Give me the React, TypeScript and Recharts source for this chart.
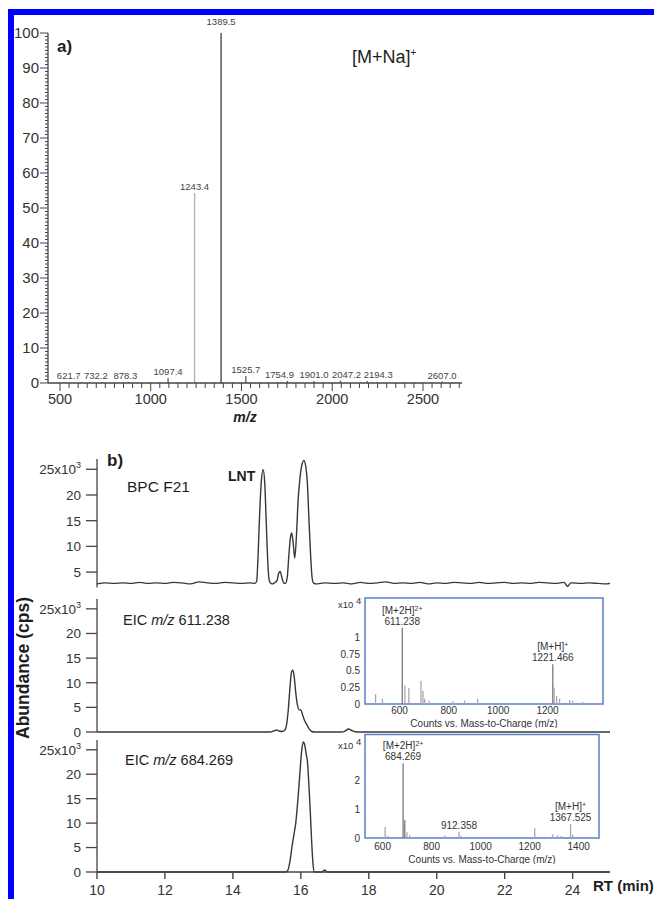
import React from "react";
import { BarChart, Bar, LineChart, Line, XAxis, YAxis, Cell, LabelList, ReferenceArea } from "recharts";

const FONT = "Arial, 'Liberation Sans', Helvetica, sans-serif";
const INK = "#1e1e1e";
const AXIS = "#444";
const TRACE = "#383838";
const BOX = "#5b7fc4";

// a) MS spectrum, relative abundance (%)
const msMz = [621.7, 732.2, 878.3, 1097.4, 1243.4, 1389.5, 1525.7, 1754.9, 1901.0, 2047.2, 2194.3, 2607.0];
const msRel = [0.3, 0.3, 0.3, 1.4, 54.3, 100, 2.0, 0.6, 0.6, 0.7, 0.6, 0.4];
const msXMajor = [500, 1000, 1500, 2000, 2500];
const msYMajor = [0, 10, 20, 30, 40, 50, 60, 70, 80, 90, 100];

// b) chromatograms, abundance in 10^3 cps
const bpcRt = [
  10.0, 10.25, 10.5, 10.75, 11.0, 11.25, 11.5, 11.75, 12.0, 12.25, 12.5, 12.75, 13.0, 13.25, 13.5, 13.75, 14.0, 14.25, 14.5, 14.65,
  14.7, 14.74, 14.78, 14.83, 14.89, 14.94, 14.98, 15.02, 15.06, 15.1, 15.16, 15.22, 15.3, 15.35, 15.39, 15.44, 15.49, 15.55,
  15.6, 15.65, 15.7, 15.73, 15.77, 15.82, 15.87, 15.92, 15.97, 16.02, 16.09, 16.15, 16.19, 16.24, 16.29, 16.33, 16.37, 16.45,
  16.7, 17.0, 17.25, 17.5, 17.75, 18.0, 18.25, 18.5, 18.75, 19.0, 19.25, 19.5, 19.75, 20.0, 20.25, 20.5, 20.75, 21.0, 21.25,
  21.5, 21.75, 22.0, 22.25, 22.5, 22.75, 23.0, 23.25, 23.5, 23.75, 23.85, 23.95, 24.25, 24.5, 24.75, 25.0, 25.1,
];
const bpcAbund = [
  2.7, 2.9, 2.8, 2.9, 2.8, 3.0, 2.8, 2.9, 2.8, 3.0, 2.9, 2.7, 3.1, 2.9, 2.8, 3.0, 2.9, 2.8, 2.9, 2.8,
  3.2, 8, 15, 22, 24.9, 22, 15, 8, 3.8, 2.9, 2.7, 2.9, 3.4, 4.8, 5.1, 4.0, 2.9, 2.8,
  4.0, 8.5, 12.0, 12.6, 11.0, 7.7, 12, 19, 23, 25.5, 26.7, 25.3, 22.6, 15, 8, 4, 2.9, 2.7,
  2.9, 2.8, 2.9, 2.7, 3.0, 2.8, 2.9, 3.1, 2.8, 2.9, 2.8, 3.0, 2.7, 2.9, 2.8, 3.0, 2.9, 2.8, 3.0,
  2.8, 2.9, 3.0, 2.8, 2.9, 2.8, 3.0, 2.9, 2.8, 3.0, 2.2, 2.9, 2.8, 2.9, 2.8, 2.7, 2.8,
];

const eic611Rt = [10.0, 15.1, 15.2, 15.28, 15.36, 15.45, 15.52, 15.58, 15.63, 15.68, 15.72, 15.76, 15.8, 15.85, 15.9, 15.95, 16.0, 16.05, 16.1, 16.15, 16.2, 16.25, 16.32, 16.4, 17.2, 17.3, 17.4, 17.5, 17.6, 17.7, 25.1];
const eic611Abund = [0, 0, 0.2, 0.4, 0.2, 0.1, 0.3, 1.5, 4.5, 9, 12, 12.6, 11.5, 8, 5.5, 4.5, 4.5, 3.5, 2.5, 1.8, 1.2, 0.6, 0.1, 0, 0, 0.2, 0.6, 0.3, 0.05, 0, 0];

const eic684Rt = [10.0, 15.55, 15.62, 15.68, 15.74, 15.8, 15.85, 15.92, 15.97, 16.02, 16.07, 16.12, 16.16, 16.19, 16.24, 16.28, 16.32, 16.36, 16.4, 16.62, 16.7, 16.78, 25.1];
const eic684Abund = [0, 0, 0.4, 2.2, 5.2, 7.8, 10, 15.4, 20, 24.5, 26.6, 25.8, 24, 22.9, 17.5, 12, 6, 1.5, 0, 0, 0.4, 0, 0];

const rtTicks = [10, 12, 14, 16, 18, 20, 22, 24];
const abTicks = [0, 5, 10, 15, 20, 25];

// insets: MS spectra, counts x10^4
const ins1Mz = [503, 531, 611.238, 622, 638, 687, 695, 702, 720, 816, 864, 917, 1221.466, 1227, 1237, 1249, 1290, 1302, 1343];
const ins1Int = [0.15, 0.08, 1.15, 0.28, 0.24, 0.35, 0.2, 0.08, 0.05, 0.04, 0.05, 0.08, 0.6, 0.25, 0.12, 0.08, 0.06, 0.05, 0.03];
const ins1NoteMz = [611.238, 1221.466];
const ins1NoteIon = ["[M+2H]^2+", "[M+H]^+"];
const ins1XTicks = [600, 800, 1000, 1200];
const ins1YTicks = [0, 0.25, 0.5, 0.75, 1];

const ins2Mz = [611, 623, 684.269, 691, 700, 711, 853, 860, 912.358, 921, 1221.5, 1294, 1315, 1329, 1367.525, 1376];
const ins2Int = [0.38, 0.08, 2.6, 0.62, 0.2, 0.1, 0.08, 0.06, 0.22, 0.08, 0.34, 0.13, 0.1, 0.07, 0.48, 0.12];
const ins2NoteMz = [684.269, 912.358, 1367.525];
const ins2NoteIon = ["[M+2H]^2+", "", "[M+H]^+"];
const ins2XTicks = [600, 800, 1000, 1200, 1400];
const ins2YTicks = [0, 1, 2];

// label nudges [dx, dy] so crowded peak labels don't collide
const MS_LABEL_NUDGE: Record<string, [number, number]> = {
  "621.7": [-13, 0],
  "732.2": [-6, 0],
  "878.3": [-3, 0],
  "1389.5": [0, -5],
  "1754.9": [-8, 0],
  "2047.2": [6, 0],
  "2194.3": [11, 0],
};

const msData = msMz.map((mz, i) => ({ mz, rel: msRel[i] }));
const msXTicks: number[] = [];
for (let t = 500; t <= 2700; t += 50) msXTicks.push(t);
const msYTicks: number[] = [];
for (let t = 0; t <= 100; t += 1) msYTicks.push(t);

const toRows = (rt: number[], ab: number[]) => rt.map((r, i) => ({ rt: r, v: ab[i] }));
const noteRows = (mzs: number[], ints: number[], noteMz: number[], noteIon: string[]) =>
  mzs.map((mz, i) => {
    const k = noteMz.indexOf(mz);
    return { mz, v: ints[i], note: k >= 0 ? `${noteIon[k]}|${mz.toFixed(3)}` : "" };
  });

const shade = (rel: number) => (rel > 80 ? "#4a4a4a" : rel > 10 ? "#b4b4b4" : "#6a6a6a");

const MsYTick = (p: any) => {
  const v = p.payload.value;
  const major = msYMajor.includes(v);
  return (
    <g>
      <line x1={p.x - (major ? 8 : 3)} x2={p.x} y1={p.y} y2={p.y} stroke={AXIS} strokeWidth={1} />
      {major && (
        <text x={p.x - 9} y={p.y} dy="0.36em" textAnchor="end" fontSize={15} fill="#333" fontFamily={FONT}>
          {v}
        </text>
      )}
    </g>
  );
};

const MsXTick = (p: any) => {
  const v = p.payload.value;
  const major = msXMajor.includes(v);
  return (
    <g>
      <line x1={p.x} x2={p.x} y1={p.y} y2={p.y + (major ? 8 : 5)} stroke={AXIS} strokeWidth={1} />
      {major && (
        <text x={p.x} y={p.y + 21} textAnchor="middle" fontSize={14.5} fill="#333" fontFamily={FONT}>
          {v}
        </text>
      )}
    </g>
  );
};

const msLabel = (p: any) => {
  const vb = p.viewBox ?? p;
  const nudge = MS_LABEL_NUDGE[String(p.value)] ?? [0, 0];
  return (
    <text
      x={vb.x + vb.width / 2 + nudge[0]}
      y={vb.y - 3 + nudge[1]}
      textAnchor="middle"
      fontSize={9.5}
      fill="#444"
      fontFamily={FONT}
    >
      {Number(p.value).toFixed(1)}
    </text>
  );
};

const insetLabel = (p: any) => {
  if (!p.value) return null;
  const vb = p.viewBox ?? p;
  const [ion, tag] = String(p.value).split("|");
  const [ionBase, charge] = ion.split("^");
  const cx = vb.x + vb.width / 2;
  const y = vb.y - 3;
  return (
    <g fontFamily={FONT} fill="#333" fontSize={10}>
      {ionBase && (
        <text x={cx} y={y - 11} textAnchor="middle">
          {ionBase}
          <tspan dy={-3} fontSize={7}>
            {charge}
          </tspan>
        </text>
      )}
      <text x={cx} y={y} textAnchor="middle">
        {tag}
      </text>
    </g>
  );
};

const AbTick = (p: any) => {
  const v = p.payload.value;
  return (
    <text x={p.x} y={p.y} dy="0.36em" textAnchor="end" fontSize={13.5} fill="#333" fontFamily={FONT}>
      {v === 25 ? (
        <>
          25x10
          <tspan dy={-6} fontSize={9}>
            3
          </tspan>
        </>
      ) : (
        v
      )}
    </text>
  );
};

function Chromatogram({
  top, height, margin, domain, ticks, data, showX,
}: {
  top: number; height: number; margin: any; domain: [number, number]; ticks: number[]; data: any[]; showX?: boolean;
}) {
  return (
    <div style={{ position: "absolute", left: 0, top }}>
      <LineChart width={654} height={height} data={data} margin={margin}>
        <XAxis
          type="number"
          dataKey="rt"
          domain={[10, 25.1]}
          ticks={rtTicks}
          interval={0}
          hide={!showX}
          height={27}
          tickSize={7}
          tickMargin={6}
          tickLine={{ stroke: AXIS, strokeWidth: 1.4 }}
          axisLine={{ stroke: AXIS, strokeWidth: 1.3 }}
          tick={{ fontSize: 14, fill: "#333", fontFamily: FONT }}
        />
        <YAxis
          type="number"
          domain={domain}
          ticks={ticks}
          interval={0}
          width={97}
          tickSize={11}
          tickMargin={5}
          tickLine={{ stroke: AXIS, strokeWidth: 1.3 }}
          axisLine={{ stroke: AXIS, strokeWidth: 1.3 }}
          tick={AbTick}
        />
        <Line type="monotone" dataKey="v" stroke={TRACE} strokeWidth={1.4} dot={false} isAnimationActive={false} />
      </LineChart>
    </div>
  );
}

function InsetSpectrum({
  left, top, height, margin, xDomain, yDomain, xTicks, yTicks, data, tickGap, titleOffset, axisHeight,
}: any) {
  return (
    <div style={{ position: "absolute", left, top }}>
      <BarChart width={324} height={height} data={data} margin={margin}>
        <XAxis
          type="number"
          dataKey="mz"
          domain={xDomain}
          ticks={xTicks}
          interval={0}
          height={axisHeight}
          tickSize={0}
          tickMargin={tickGap}
          tickLine={false}
          axisLine={false}
          tick={{ fontSize: 10, fill: "#333", fontFamily: FONT }}
          label={{
            value: "Counts vs. Mass-to-Charge (m/z)",
            position: "insideBottom",
            offset: titleOffset,
            fontSize: 10,
            fill: "#333",
            fontFamily: FONT,
          }}
        />
        <YAxis
          type="number"
          domain={yDomain}
          ticks={yTicks}
          interval={0}
          width={35}
          tickSize={0}
          tickMargin={5}
          tickLine={false}
          axisLine={false}
          tick={{ fontSize: 10, fill: "#333", fontFamily: FONT }}
        />
        <ReferenceArea
          x1={xDomain[0]}
          x2={xDomain[1]}
          y1={yDomain[0]}
          y2={yDomain[1]}
          fill="none"
          stroke={BOX}
          strokeWidth={1.5}
          ifOverflow="visible"
        />
        <Bar dataKey="v" barSize={1.3} isAnimationActive={false}>
          {data.map((d: any, i: number) => (
            <Cell key={i} fill={d.v > 0.5 ? "#7a7a7a" : "#a8a8a8"} />
          ))}
          <LabelList dataKey="note" content={insetLabel} />
        </Bar>
      </BarChart>
    </div>
  );
}

export default function App() {
  return (
    <div
      style={{
        position: "absolute",
        left: 0,
        top: 0,
        width: 654,
        height: 899,
        overflow: "hidden",
        background: "#fff",
        fontFamily: FONT,
      }}
    >
      <div style={{ position: "absolute", left: 8, top: 9, width: 646, height: 6, background: "#0000ff" }} />
      <div style={{ position: "absolute", left: 8, top: 9, width: 6, height: 890, background: "#0000ff" }} />

      {/* a) spectrum */}
      <div style={{ position: "absolute", left: 0, top: 0 }}>
        <BarChart width={654} height={430} data={msData} margin={{ top: 33, right: 192, bottom: 7, left: 0 }}>
          <XAxis
            type="number"
            dataKey="mz"
            domain={[434, 2715]}
            ticks={msXTicks}
            interval={0}
            height={40}
            tickSize={0}
            tickMargin={0}
            tickLine={false}
            axisLine={{ stroke: AXIS, strokeWidth: 1.3 }}
            tick={MsXTick}
          />
          <YAxis
            type="number"
            domain={[0, 100]}
            ticks={msYTicks}
            interval={0}
            width={48}
            tickSize={0}
            tickMargin={0}
            tickLine={false}
            axisLine={{ stroke: AXIS, strokeWidth: 1.3 }}
            tick={MsYTick}
          />
          <Bar dataKey="rel" barSize={1.4} isAnimationActive={false}>
            {msData.map((d, i) => (
              <Cell key={i} fill={shade(d.rel)} />
            ))}
            <LabelList dataKey="mz" content={msLabel} />
          </Bar>
        </BarChart>
      </div>

      {/* b) chromatograms */}
      <Chromatogram
        top={450}
        height={145}
        margin={{ top: 9, right: 44, bottom: 7.5, left: 0 }}
        domain={[2, 27]}
        ticks={[5, 10, 15, 20, 25]}
        data={toRows(bpcRt, bpcAbund)}
      />
      <Chromatogram
        top={590}
        height={150}
        margin={{ top: 9, right: 44, bottom: 8, left: 0 }}
        domain={[0, 27]}
        ticks={abTicks}
        data={toRows(eic611Rt, eic611Abund)}
      />
      <Chromatogram
        top={730}
        height={169}
        margin={{ top: 10, right: 44, bottom: 0, left: 0 }}
        domain={[0, 27]}
        ticks={abTicks}
        data={toRows(eic684Rt, eic684Abund)}
        showX
      />

      <InsetSpectrum
        left={330}
        top={590}
        height={138}
        margin={{ top: 8, right: 51, bottom: 0, left: 0 }}
        xDomain={[460, 1425]}
        yDomain={[0, 1.6]}
        xTicks={ins1XTicks}
        yTicks={ins1YTicks}
        data={noteRows(ins1Mz, ins1Int, ins1NoteMz, ins1NoteIon)}
        tickGap={3}
        titleOffset={1}
        axisHeight={24}
      />
      <InsetSpectrum
        left={330}
        top={726}
        height={138}
        margin={{ top: 8.5, right: 55, bottom: 0, left: 0 }}
        xDomain={[528, 1483]}
        yDomain={[0, 3.6]}
        xTicks={ins2XTicks}
        yTicks={ins2YTicks}
        data={noteRows(ins2Mz, ins2Int, ins2NoteMz, ins2NoteIon)}
        tickGap={5}
        titleOffset={1}
        axisHeight={26}
      />

      <svg
        width={654}
        height={899}
        style={{ position: "absolute", left: 0, top: 0, pointerEvents: "none" }}
        fontFamily={FONT}
        fill={INK}
      >
        <text x={57} y={52} fontSize={17} fontWeight="bold">a)</text>
        <text x={352} y={63} fontSize={18}>
          [M+Na]
          <tspan dy={-7} fontSize={10}>+</tspan>
        </text>
        <text x={245} y={422} fontSize={14} fontWeight="bold" fontStyle="italic" textAnchor="middle">m/z</text>
        <text x={107} y={466} fontSize={17} fontWeight="bold">b)</text>
        <text x={127} y={492} fontSize={15.5}>BPC F21</text>
        <text x={228} y={481} fontSize={14} fontWeight="bold">LNT</text>
        <text x={123} y={625} fontSize={14.5}>
          EIC <tspan fontStyle="italic">m/z</tspan> 611.238
        </text>
        <text x={125} y={765} fontSize={14.5}>
          EIC <tspan fontStyle="italic">m/z</tspan> 684.269
        </text>
        <text x={593} y={891} fontSize={15} fontWeight="bold">RT (min)</text>
        <text transform="translate(28.5,668) rotate(-90)" textAnchor="middle" fontSize={17.5} fontWeight="bold">
          Abundance (cps)
        </text>
        <text x={338} y={608} fontSize={9.5} fill="#333">
          x10 <tspan dy={-4}>4</tspan>
        </text>
        <text x={338} y={749} fontSize={9.5} fill="#333">
          x10 <tspan dy={-4}>4</tspan>
        </text>
      </svg>
    </div>
  );
}
